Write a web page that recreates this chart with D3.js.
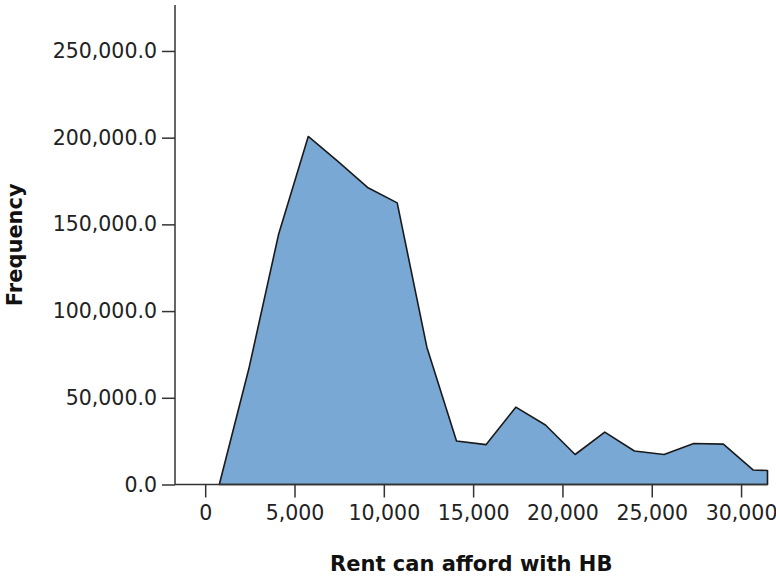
<!DOCTYPE html>
<html>
<head>
<meta charset="utf-8">
<script src="https://cdn.jsdelivr.net/npm/d3@7"></script>
<style>
  html, body { margin: 0; padding: 0; background: #fff; }
  svg { display: block; }
</style>
</head>
<body>
<svg id="chart" width="776" height="577"></svg>
<script>
// Bin midpoints (Rent can afford with HB) and frequencies
const binMid = [790, 2450, 4110, 5770, 7430, 9090, 10750, 12410, 14070, 15730,
                17390, 19050, 20710, 22370, 24030, 25690, 27350, 29010, 30670, 31480];
const freq   = [0, 67000, 144300, 200700, 186300, 171300, 162400, 79200, 25100, 23000,
                44600, 34300, 17300, 30200, 19300, 17300, 23600, 23300, 8400, 8100];
const xTicks = [0, 5000, 10000, 15000, 20000, 25000, 30000];
const yTicks = [0, 50000, 100000, 150000, 200000, 250000];
const xTitle = "Rent can afford with HB";
const yTitle = "Frequency";

(function () {
const svg = d3.select("#chart");
const pLeft = 175, pRight = 767.5, pTop = 5, pBottom = 484.5;

const x = d3.scaleLinear().domain([-1690, 31480]).range([pLeft, pRight]);
const y = d3.scaleLinear().domain([0, 276500]).range([pBottom, pTop]);

const data = binMid.map((m, i) => ({ m, f: freq[i] }));

const area = d3.area()
  .x(d => x(d.m))
  .y0(y(0))
  .y1(d => y(d.f));

svg.append("path")
  .datum(data)
  .attr("d", area)
  .attr("fill", "#79a8d5")
  .attr("stroke", "#1a1a1a")
  .attr("stroke-width", 1.6)
  .attr("stroke-linejoin", "round");

const fmtX = d3.format(",");
const fmtY = d3.format(",.1f");

const yAxis = svg.append("g")
  .attr("transform", `translate(${pLeft},0)`)
  .call(d3.axisLeft(y).tickValues(yTicks).tickFormat(fmtY).tickSize(13).tickPadding(5).tickSizeOuter(0));
yAxis.select(".domain").remove();
yAxis.append("line")
  .attr("x1", 0).attr("x2", 0).attr("y1", pTop).attr("y2", pBottom)
  .attr("stroke", "#333").attr("stroke-width", 1.5);

const xAxis = svg.append("g")
  .attr("transform", `translate(0,${pBottom})`)
  .call(d3.axisBottom(x).tickValues(xTicks).tickFormat(fmtX).tickSize(13).tickPadding(8).tickSizeOuter(0));
xAxis.select(".domain").remove();
xAxis.append("line")
  .attr("x1", pLeft).attr("x2", pRight).attr("y1", 0).attr("y2", 0)
  .attr("stroke", "#333").attr("stroke-width", 1.5);

svg.selectAll(".tick line").attr("stroke", "#333").attr("stroke-width", 1.5);
svg.selectAll(".tick text")
  .attr("fill", "#222")
  .style("font-family", "'DejaVu Sans', Verdana, sans-serif")
  .style("font-size", "20.5px");

svg.append("text")
  .attr("x", (pLeft + pRight) / 2)
  .attr("y", 571)
  .attr("text-anchor", "middle")
  .attr("fill", "#111")
  .style("font-family", "'DejaVu Sans', Verdana, sans-serif")
  .style("font-weight", "bold")
  .style("font-size", "21px")
  .text(xTitle);

svg.append("text")
  .attr("transform", `translate(22,${(pTop + pBottom) / 2}) rotate(-90)`)
  .attr("text-anchor", "middle")
  .attr("fill", "#111")
  .style("font-family", "'DejaVu Sans', Verdana, sans-serif")
  .style("font-weight", "bold")
  .style("font-size", "21px")
  .text(yTitle);
})();
</script>
</body>
</html>
